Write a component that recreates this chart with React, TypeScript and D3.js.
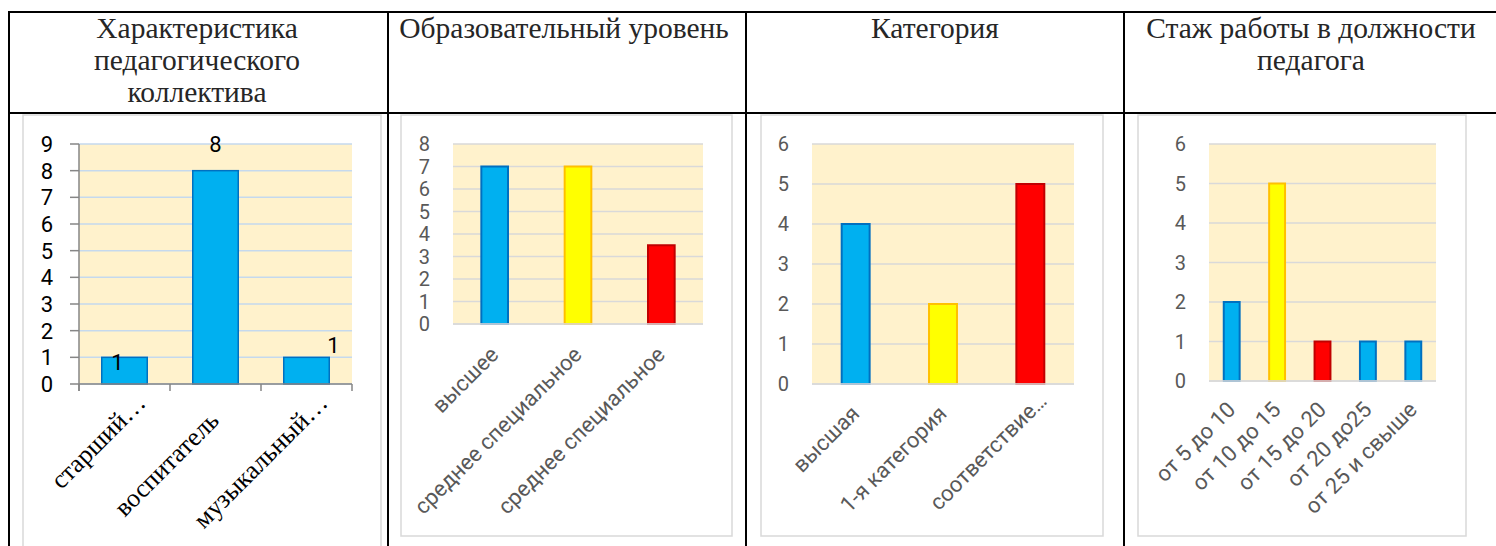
import { useEffect, useRef } from 'react';
import * as d3 from 'd3';

// table headers
const headerStaff = ['Характеристика', 'педагогического', 'коллектива'];
const headerEdu = ['Образовательный уровень'];
const headerCat = ['Категория'];
const headerExp = ['Стаж работы в должности', 'педагога'];

// chart 1: staff
const staffCategories = ['старший…', 'воспитатель', 'музыкальный…'];
const staffValues = [1, 8, 1];
const staffTicks = [0, 1, 2, 3, 4, 5, 6, 7, 8, 9];

// chart 2: education
const eduCategories = ['высшее', 'среднее специальное', 'среднее специальное'];
const eduValues = [7, 7, 3.5];
const eduTicks = [0, 1, 2, 3, 4, 5, 6, 7, 8];

// chart 3: category
const catCategories = ['высшая', '1-я категория', 'соответствие…'];
const catValues = [4, 2, 5];
const catTicks = [0, 1, 2, 3, 4, 5, 6];

// chart 4: experience
const expCategories = ['от 5 до 10', 'от 10 до 15', 'от 15 до 20', 'от 20 до25', 'от 25 и свыше'];
const expValues = [2, 5, 1, 1, 1];
const expTicks = [0, 1, 2, 3, 4, 5, 6];

const BLUE = { fill: '#00b0f0', stroke: '#0070c0' };
const YELLOW = { fill: '#ffff00', stroke: '#ffc000' };
const RED = { fill: '#ff0000', stroke: '#c00000' };

const SERIF = "'Liberation Serif', 'Times New Roman', serif";
const SANS = "Roboto, 'Noto Sans', sans-serif";

export default function App() {
  const ref = useRef<SVGSVGElement>(null);

  useEffect(() => {
    const svg = d3.select(ref.current);
    svg.selectAll('*').remove();

    // ---- table grid ----
    const grid = svg.append('g').attr('stroke', '#000').attr('stroke-width', 2);
    grid.append('line').attr('x1', 8).attr('x2', 1496).attr('y1', 12).attr('y2', 12);
    grid.append('line').attr('x1', 8).attr('x2', 1496).attr('y1', 113).attr('y2', 113);
    [9, 388, 746, 1124].forEach(x => {
      grid.append('line').attr('x1', x).attr('x2', x).attr('y1', 11).attr('y2', 546);
    });

    const headers = [
      { lines: headerStaff, cx: 197 },
      { lines: headerEdu, cx: 564 },
      { lines: headerCat, cx: 935 },
      { lines: headerExp, cx: 1311 },
    ];
    headers.forEach(h => {
      h.lines.forEach((t, i) => {
        svg
          .append('text')
          .attr('x', h.cx)
          .attr('y', 38 + i * 32)
          .attr('text-anchor', 'middle')
          .style('font-family', SERIF)
          .style('font-size', '29.5px')
          .style('fill', '#262626')
          .text(t);
      });
    });

    // ---- charts ----
    const panels = [
      {
        categories: staffCategories,
        values: staffValues,
        ticks: staffTicks,
        colors: [BLUE, BLUE, BLUE],
        frame: [23, 115, 381, 560],
        plot: [79, 144, 352, 384],
        padInner: 0.5,
        grid: '#c5d9ee',
        axes: true,
        tickFont: 22,
        tickColor: '#000',
        labelRight: 53,
        xFont: SERIF,
        xSize: 26,
        xColor: '#000',
        xOff: [5, 38],
        ellipsisShift: 25,
        dataLabels: [[-7, 5], [0, -27], [27, -12]],
        strokeW: 1.5,
      },
      {
        categories: eduCategories,
        values: eduValues,
        ticks: eduTicks,
        colors: [BLUE, YELLOW, RED],
        frame: [401, 115, 732, 536],
        plot: [453, 144, 703, 324],
        padInner: 0.68,
        grid: '#d9d9d9',
        axes: false,
        tickFont: 20,
        tickColor: '#595959',
        labelRight: 430,
        xFont: SANS,
        xSize: 22,
        xColor: '#595959',
        xOff: [5, 32],
        ellipsisShift: 18,
        dataLabels: null,
        strokeW: 2,
      },
      {
        categories: catCategories,
        values: catValues,
        ticks: catTicks,
        colors: [BLUE, YELLOW, RED],
        frame: [761, 115, 1103, 536],
        plot: [812, 144, 1074, 384],
        padInner: 0.68,
        grid: '#d9d9d9',
        axes: false,
        tickFont: 20,
        tickColor: '#595959',
        labelRight: 789,
        xFont: SANS,
        xSize: 22,
        xColor: '#595959',
        xOff: [5, 31],
        ellipsisShift: 18,
        dataLabels: null,
        strokeW: 2,
      },
      {
        categories: expCategories,
        values: expValues,
        ticks: expTicks,
        colors: [BLUE, YELLOW, RED, BLUE, BLUE],
        frame: [1138, 115, 1466, 536],
        plot: [1209, 144, 1436, 381],
        padInner: 0.65,
        grid: '#d9d9d9',
        axes: false,
        tickFont: 20,
        tickColor: '#595959',
        labelRight: 1186,
        xFont: SANS,
        xSize: 22,
        xColor: '#595959',
        xOff: [5, 30],
        ellipsisShift: 18,
        dataLabels: null,
        strokeW: 2,
      },
    ];

    panels.forEach(p => {
      const g = svg.append('g');
      const [fx0, fy0, fx1, fy1] = p.frame;
      const [left, top, right, bottom] = p.plot;

      g.append('rect')
        .attr('x', fx0)
        .attr('y', fy0)
        .attr('width', fx1 - fx0)
        .attr('height', fy1 - fy0)
        .attr('fill', '#fff')
        .attr('stroke', '#d9d9d9')
        .attr('stroke-width', 1.5);

      const y = d3
        .scaleLinear()
        .domain([0, d3.max(p.ticks)])
        .range([bottom, top]);
      const x = d3
        .scaleBand()
        .domain(d3.range(p.categories.length).map(String))
        .range([left, right])
        .paddingInner(p.padInner)
        .paddingOuter(p.padInner / 2);
      const bw = x.bandwidth();
      const step = x.step();

      g.append('rect')
        .attr('x', left)
        .attr('y', top)
        .attr('width', right - left)
        .attr('height', bottom - top)
        .attr('fill', '#fff2cc');

      g.selectAll('.gridline')
        .data(p.ticks)
        .join('line')
        .attr('x1', left)
        .attr('x2', right)
        .attr('y1', d => y(d))
        .attr('y2', d => y(d))
        .attr('stroke', p.grid)
        .attr('stroke-width', 1.5);

      g.selectAll('.ytick')
        .data(p.ticks)
        .join('text')
        .attr('x', p.labelRight)
        .attr('y', d => y(d))
        .attr('dy', '0.36em')
        .attr('text-anchor', 'end')
        .style('font-family', SANS)
        .style('font-size', `${p.tickFont}px`)
        .style('fill', p.tickColor)
        .text(d => d);

      g.selectAll('.bar')
        .data(p.values)
        .join('rect')
        .attr('x', (d, i) => x(String(i)))
        .attr('y', d => y(d))
        .attr('width', bw)
        .attr('height', d => bottom - y(d))
        .attr('fill', (d, i) => p.colors[i].fill)
        .attr('stroke', (d, i) => p.colors[i].stroke)
        .attr('stroke-width', p.strokeW);

      if (p.axes) {
        const ax = g.append('g').attr('stroke', '#868686').attr('stroke-width', 1.5);
        ax.append('line').attr('x1', left).attr('x2', left).attr('y1', top).attr('y2', bottom + 7);
        ax.append('line').attr('x1', left).attr('x2', right).attr('y1', bottom).attr('y2', bottom);
        p.ticks.forEach(t => {
          ax.append('line').attr('x1', left - 9).attr('x2', left).attr('y1', y(t)).attr('y2', y(t));
        });
        d3.range(p.categories.length + 1).forEach(i => {
          const bx = left + i * step;
          ax.append('line').attr('x1', bx).attr('x2', bx).attr('y1', bottom).attr('y2', bottom + 7);
        });
      } else {
        g.append('line')
          .attr('x1', left)
          .attr('x2', right)
          .attr('y1', bottom)
          .attr('y2', bottom)
          .attr('stroke', '#d9d9d9')
          .attr('stroke-opacity', 0.8)
          .attr('stroke-width', 2);
      }

      g.selectAll('.xlab')
        .data(p.categories)
        .join('text')
        .attr('transform', (d, i) => {
          let cx = x(String(i)) + bw / 2 + p.xOff[0];
          let cy = bottom + p.xOff[1];
          if (d.endsWith('…')) {
            cx += p.ellipsisShift * Math.SQRT1_2;
            cy -= p.ellipsisShift * Math.SQRT1_2;
          }
          return `translate(${cx},${cy}) rotate(-45)`;
        })
        .attr('text-anchor', 'end')
        .style('font-family', p.xFont)
        .style('font-size', `${p.xSize}px`)
        .style('fill', p.xColor)
        .text(d => d);

      if (p.dataLabels) {
        g.selectAll('.dlab')
          .data(p.values)
          .join('text')
          .attr('x', (d, i) => x(String(i)) + bw / 2 + p.dataLabels[i][0])
          .attr('y', (d, i) => y(d) + p.dataLabels[i][1])
          .attr('dy', '0.36em')
          .attr('text-anchor', 'middle')
          .style('font-family', SANS)
          .style('font-size', '22px')
          .style('fill', '#000')
          .text(d => d);
      }
    });
  }, []);

  return (
    <svg
      ref={ref}
      width={1496}
      height={546}
      style={{ position: 'absolute', left: 0, top: 0, background: '#fff' }}
    />
  );
}
